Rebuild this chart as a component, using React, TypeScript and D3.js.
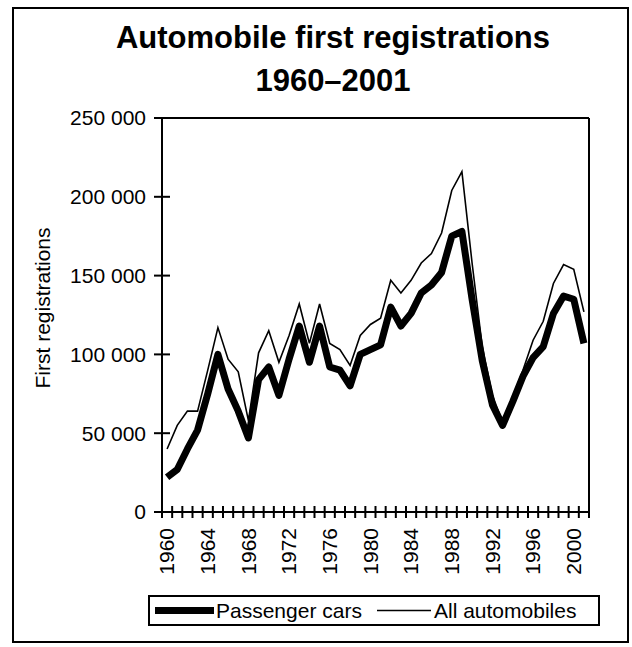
import React from "react";
import * as d3 from "d3";

const years: number[] = [
  1960, 1961, 1962, 1963, 1964, 1965, 1966, 1967, 1968, 1969,
  1970, 1971, 1972, 1973, 1974, 1975, 1976, 1977, 1978, 1979,
  1980, 1981, 1982, 1983, 1984, 1985, 1986, 1987, 1988, 1989,
  1990, 1991, 1992, 1993, 1994, 1995, 1996, 1997, 1998, 1999,
  2000, 2001,
];

const passengerCars: number[] = [
  22000, 27000, 40000, 52000, 75000, 100000, 78000, 64000, 47000, 84000,
  92000, 74000, 97000, 118000, 95000, 118000, 92000, 90000, 80000, 100000,
  103000, 106000, 130000, 118000, 126000, 139000, 144000, 152000, 175000, 178000,
  135000, 96000, 68000, 55000, 70000, 86000, 98000, 105000, 126000, 137000,
  135000, 107000,
];

const allAutomobiles: number[] = [
  40000, 55000, 64000, 64000, 90000, 117000, 97000, 89000, 58000, 101000,
  115000, 95000, 112000, 132000, 107000, 132000, 107000, 103000, 93000, 112000,
  119000, 123000, 147000, 139000, 147000, 158000, 164000, 177000, 204000, 216000,
  158000, 105000, 74000, 57000, 73000, 90000, 109000, 121000, 145000, 157000,
  154000, 127000,
];

const yTicks: number[] = [0, 50000, 100000, 150000, 200000, 250000];
const labelYears: number[] = [1960, 1964, 1968, 1972, 1976, 1980, 1984, 1988, 1992, 1996, 2000];

const titleLines: string[] = ["Automobile first registrations", "1960\u20132001"];
const yAxisTitle = "First registrations";
const seriesNames: string[] = ["Passenger cars", "All automobiles"];

const W = 632;
const H = 647;
const FONT = "'Liberation Sans', Arial, Helvetica, sans-serif";

export default function App() {
  const left = 162;
  const right = 589;
  const top = 118;
  const bottom = 512;

  const x = d3.scaleBand<number>().domain(years).range([left, right]).padding(0);
  const y = d3.scaleLinear().domain([0, 250000]).range([bottom, top]);
  const bw = x.bandwidth();
  const cx = (yr: number) => (x(yr) as number) + bw / 2;

  const fmt = d3
    .formatLocale({ decimal: ".", thousands: " ", grouping: [3], currency: ["", ""] })
    .format(",");

  const line = d3
    .line<number>()
    .x((_, i) => cx(years[i]))
    .y((d) => y(d));

  const tickXs: number[] = years.map((yr) => x(yr) as number).concat([right]);

  return (
    <svg
      width={W}
      height={H}
      style={{ position: "absolute", left: 0, top: 0, background: "#fff" }}
      fontFamily={FONT}
    >
      <rect x={0} y={0} width={W} height={H} fill="#fff" />
      {/* outer frame */}
      <rect x={13} y={8} width={615} height={634} fill="none" stroke="#000" strokeWidth={2} />

      {/* title */}
      <text x={333} y={48} textAnchor="middle" fontSize={31} fontWeight="bold" fill="#000">
        {titleLines[0]}
      </text>
      <text x={333} y={91} textAnchor="middle" fontSize={31} fontWeight="bold" fill="#000">
        {titleLines[1]}
      </text>

      {/* plot border */}
      <line x1={left} x2={right} y1={top} y2={top} stroke="#000" strokeWidth={2} />
      <line x1={right} x2={right} y1={top} y2={bottom} stroke="#000" strokeWidth={2} />

      {/* y axis */}
      <line x1={left} x2={left} y1={top} y2={bottom} stroke="#000" strokeWidth={2} />
      {yTicks.map((t) => (
        <g key={t}>
          <line x1={left - 8} x2={left + 8} y1={y(t)} y2={y(t)} stroke="#000" strokeWidth={2} />
          <text x={146} y={y(t)} dy="0.35em" textAnchor="end" fontSize={21} fill="#000">
            {fmt(t)}
          </text>
        </g>
      ))}
      <text
        transform={`translate(50, ${(top + bottom) / 2 - 7}) rotate(-90)`}
        textAnchor="middle"
        fontSize={21}
        fill="#000"
      >
        {yAxisTitle}
      </text>

      {/* x axis */}
      <line x1={left} x2={right} y1={bottom} y2={bottom} stroke="#000" strokeWidth={2} />
      {tickXs.map((tx, i) => (
        <line key={i} x1={tx} x2={tx} y1={bottom - 6} y2={bottom + 6} stroke="#000" strokeWidth={2} />
      ))}
      {labelYears.map((yr) => (
        <text
          key={yr}
          transform={`translate(${cx(yr)}, 528) rotate(-90)`}
          dy="0.35em"
          textAnchor="end"
          fontSize={21}
          fill="#000"
        >
          {yr}
        </text>
      ))}

      {/* series */}
      <path d={line(allAutomobiles) ?? ""} fill="none" stroke="#000" strokeWidth={1.6} strokeLinejoin="miter" />
      <path d={line(passengerCars) ?? ""} fill="none" stroke="#000" strokeWidth={7} strokeLinejoin="round" />

      {/* legend */}
      <rect x={149} y={596} width={450} height={29} fill="#fff" stroke="#000" strokeWidth={2} />
      <line x1={155} x2={214} y1={610.5} y2={610.5} stroke="#000" strokeWidth={7} />
      <text x={216} y={618} fontSize={21} fill="#000">{seriesNames[0]}</text>
      <line x1={377} x2={431} y1={610.5} y2={610.5} stroke="#000" strokeWidth={1.6} />
      <text x={434} y={618} fontSize={21} fill="#000">{seriesNames[1]}</text>
    </svg>
  );
}
